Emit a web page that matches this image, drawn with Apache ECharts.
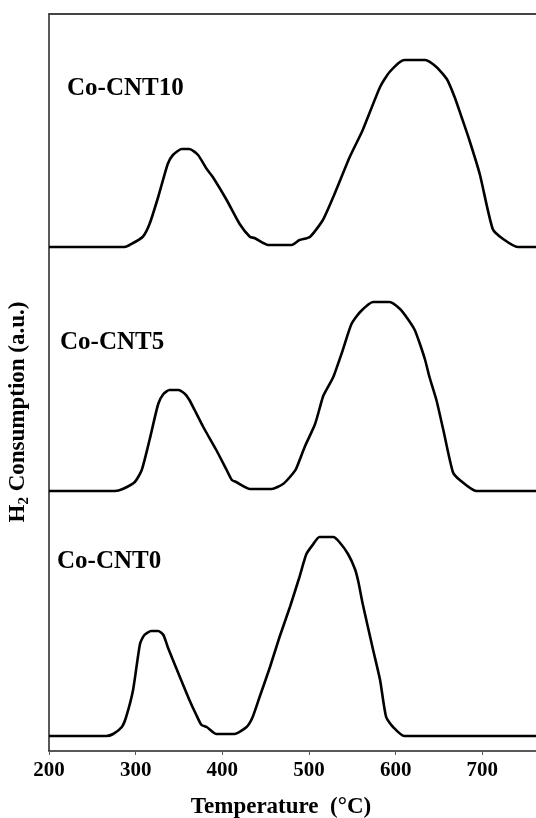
<!DOCTYPE html>
<html>
<head>
<meta charset="utf-8">
<script src="https://cdn.jsdelivr.net/npm/echarts@6/dist/echarts.min.js"></script>
<style>html,body{margin:0;padding:0;background:#fff;}#c{width:536px;height:818px;}</style>
</head>
<body>
<div id="c"></div>
<script>
// Temperature ticks
var xTicks = [200, 300, 400, 500, 600, 700, 800];
var seriesNames = ['Co-CNT10', 'Co-CNT5', 'Co-CNT0'];
// [temperature °C, H2 consumption a.u. (stacked offsets as drawn)]
var co10 = [[200,504],[287,504],[293,506],[308,514],[316,527],[326,554],[337,587],[343,596],[353,602],[362,602],[372,596],[382,582],[389,574],[405,551],[420,527],[432,514],[437,513],[453,506],[480,506],[489,511],[501,514],[516,531],[528,554],[547,594],[562,621],[582,664],[593,679],[610,691],[634,691],[647,684],[659,672],[668,654],[676,634],[685,611],[697,577],[712,522],[724,512],[741,504],[800,504]];
var co5 = [[200,260],[276,260],[285,262],[299,269],[307,281],[316,311],[326,347],[332,357],[339,361],[349,361],[357,357],[362,351],[368,341],[378,324],[393,301],[405,281],[411,271],[416,269],[432,262],[457,262],[470,267],[478,274],[485,282],[495,304],[507,327],[516,354],[520,361],[528,374],[539,401],[549,427],[559,439],[574,449],[593,449],[605,442],[614,432],[622,421],[628,407],[634,391],[639,374],[647,351],[655,321],[666,279],[674,271],[693,260],[800,260]];
var co0 = [[200,15],[266,15],[274,17],[284,24],[289,34],[297,61],[305,107],[310,116],[318,120],[326,120],[332,116],[337,104],[343,91],[351,74],[362,51],[370,36],[376,26],[382,24],[393,17],[414,17],[428,24],[435,34],[443,54],[455,84],[466,114],[478,144],[489,174],[497,197],[505,207],[512,214],[528,214],[535,209],[545,197],[553,182],[557,169],[562,147],[574,101],[582,71],[589,34],[597,24],[610,15],[800,15]];

var FONT = '"Liberation Serif", "Times New Roman", serif';
var chart = echarts.init(document.getElementById('c'), null, {renderer: 'canvas'});

function lineSeries(name, data) {
  return {
    name: name, type: 'line', data: data, showSymbol: false, symbol: 'none',
    smooth: 0.2,
    lineStyle: {color: '#000', width: 2.6}, animation: false
  };
}

chart.setOption({
  backgroundColor: '#fff',
  animation: false,
  grid: {left: 49, top: 14, width: 520, bottom: 67, containLabel: false, outerBoundsMode: 'none'},
  xAxis: [{
    type: 'value', min: xTicks[0], max: xTicks[xTicks.length - 1], interval: 100,
    position: 'bottom',
    axisLine: {show: true, lineStyle: {color: '#222', width: 1.5}},
    axisTick: {show: true, inside: false, length: 4, lineStyle: {color: '#555', width: 1}},
    splitLine: {show: false},
    axisLabel: {color: '#000', fontFamily: FONT, fontWeight: 'bold', fontSize: 21, margin: 9},
    name: 'Temperature  (\u00B0C)', nameLocation: 'middle', nameGap: 45,
    nameTextStyle: {color: '#000', fontFamily: FONT, fontWeight: 'bold', fontSize: 23, padding: [0, 56, 0, 0]}
  }, {
    type: 'value', min: xTicks[0], max: xTicks[xTicks.length - 1], position: 'top',
    axisLine: {show: true, lineStyle: {color: '#444', width: 2}},
    axisTick: {show: false}, axisLabel: {show: false}, splitLine: {show: false}
  }],
  yAxis: {
    type: 'value', min: 0, max: 737,
    axisLine: {show: true, lineStyle: {color: '#222', width: 1.5}},
    axisTick: {show: false}, axisLabel: {show: false}, splitLine: {show: false}
  },
  series: [lineSeries(seriesNames[0], co10), lineSeries(seriesNames[1], co5), lineSeries(seriesNames[2], co0)],
  graphic: [
    {type: 'text', left: 67, top: 76, style: {text: seriesNames[0], fill: '#000', font: 'bold 25px ' + FONT}},
    {type: 'text', left: 60, top: 330, style: {text: seriesNames[1], fill: '#000', font: 'bold 25px ' + FONT}},
    {type: 'text', left: 57, top: 549, style: {text: seriesNames[2], fill: '#000', font: 'bold 25px ' + FONT}},
    {type: 'text', x: 18, y: 412, rotation: Math.PI / 2,
     style: {
       text: '{a|H}{b|2}{a| Consumption (a.u.)}', align: 'center', verticalAlign: 'middle',
       rich: {
         a: {fontFamily: FONT, fontWeight: 'bold', fontSize: 23, lineHeight: 28, fill: '#000', color: '#000'},
         b: {fontFamily: FONT, fontWeight: 'bold', fontSize: 15, lineHeight: 14, verticalAlign: 'bottom', fill: '#000', color: '#000'}
       }
     }}
  ]
});
</script>
</body>
</html>
